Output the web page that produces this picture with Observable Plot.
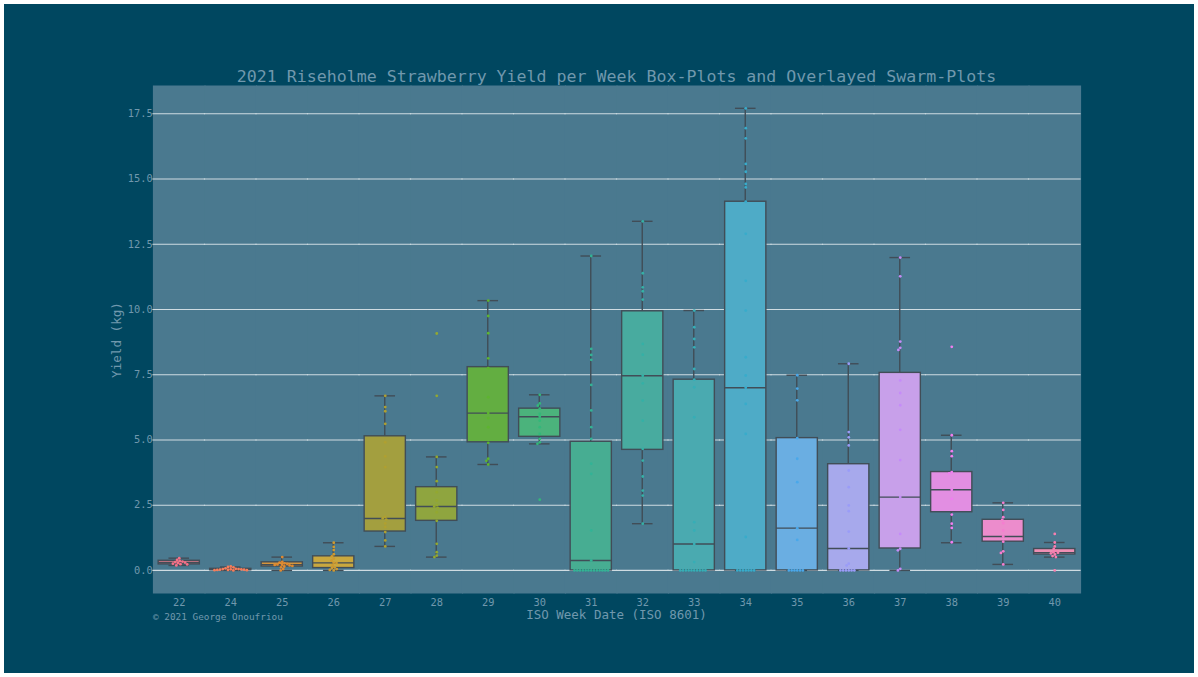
<!DOCTYPE html>
<html><head><meta charset="utf-8">
<script src="https://cdn.jsdelivr.net/npm/d3@7"></script>
<script src="https://cdn.jsdelivr.net/npm/@observablehq/plot@0.6"></script>
<style>
html,body{margin:0;padding:0;background:#fff;}
#wrap{position:relative;width:1198px;height:677px;overflow:hidden;background:#004760;}
#border{position:absolute;left:0;top:0;width:1198px;height:677px;box-sizing:border-box;border:4px solid #fff;pointer-events:none;}
.txt{position:absolute;font-family:"DejaVu Sans Mono",monospace;color:#7098ad;line-height:1;white-space:nowrap;}
#chart svg{display:block;}
</style></head><body>
<div id="wrap">
<div id="chart"></div>
<div class="txt" style="left:153px;width:927px;top:68.5px;text-align:center;font-size:16.6px;">2021 Riseholme Strawberry Yield per Week Box-Plots and Overlayed Swarm-Plots</div>
<div class="txt" style="left:117px;top:340px;font-size:12.6px;transform:translate(-50%,-50%) rotate(-90deg);">Yield (kg)</div>
<div class="txt" style="left:153px;width:927px;top:608.7px;text-align:center;font-size:12.5px;">ISO Week Date (ISO 8601)</div>
<div class="txt" style="left:153px;top:611.5px;font-size:9.4px;">© 2021 George Onoufriou</div>
<div id="border"></div>
</div>
<script>
// ---- data ----
const weeks = [22, 24, 25, 26, 27, 28, 29, 30, 31, 32, 33, 34, 35, 36, 37, 38, 39, 40];
const whiskerLow  = [0.19, 0.00, 0.00, 0.00, 0.92, 0.51, 4.06, 4.85, 0.00, 1.79, 0.00, 0.00, 0.00, 0.00, 0.00, 1.06, 0.23, 0.51];
const q1          = [0.23, 0.01, 0.15, 0.09, 1.49, 1.90, 4.91, 5.12, 0.00, 4.62, 0.00, 0.00, 0.00, 0.00, 0.84, 2.23, 1.10, 0.61];
const median      = [0.30, 0.03, 0.22, 0.29, 1.99, 2.45, 6.03, 5.89, 0.38, 7.46, 1.01, 7.00, 1.62, 0.84, 2.81, 3.09, 1.30, 0.68];
const q3          = [0.37, 0.06, 0.31, 0.54, 5.14, 3.19, 7.79, 6.20, 4.93, 9.93, 7.31, 14.13, 5.07, 4.07, 7.57, 3.77, 1.94, 0.82];
const whiskerHigh = [0.47, 0.13, 0.51, 1.06, 6.69, 4.35, 10.34, 6.73, 12.05, 13.38, 9.96, 17.71, 7.48, 7.92, 11.99, 5.18, 2.59, 1.07];
const boxColors = ["#b8707e", "#c97b6a", "#d5953d", "#c9a83f", "#a39f3f", "#8fa53f", "#63ae41", "#4bb37c", "#47ad92",
  "#48ab9f", "#4aaab0", "#4eabc7", "#6aaee2", "#a7a9ec", "#c8a0ea", "#e28ee2", "#ec8ccc", "#ee8fb4"];
const pointColors = ["#f77189", "#f67d5a", "#e08a30", "#cf9a30", "#b0a030", "#93a830", "#5eb530", "#33b87a", "#33b396",
  "#35b0a6", "#36aeb6", "#38accb", "#4aa8ea", "#9a9cf8", "#c58cf8", "#f07ef0", "#f57ed0", "#f77fb0"];
const pointValues = [
  [0.47, 0.40, 0.36, 0.34, 0.32, 0.30, 0.28, 0.26, 0.24, 0.23, 0.19],
  [0.15, 0.13, 0.12, 0.08, 0.06, 0.05, 0.05, 0.04, 0.04, 0.03, 0.03, 0.02, 0.02, 0.01, 0.01, 0.00],
  [0.51, 0.33, 0.30, 0.27, 0.25, 0.23, 0.22, 0.21, 0.19, 0.17, 0.15, 0.12, 0.05, 0.00],
  [1.06, 0.90, 0.78, 0.62, 0.54, 0.45, 0.38, 0.30, 0.28, 0.20, 0.12, 0.09, 0.05, 0.02, 0.00],
  [6.69, 6.26, 6.10, 5.62, 4.91, 4.37, 3.96, 2.05, 2.00, 1.95, 1.80, 1.66, 1.47, 1.15, 0.92],
  [9.08, 6.69, 4.35, 3.96, 3.42, 3.00, 2.68, 2.50, 2.45, 2.40, 2.23, 1.90, 1.02, 0.70, 0.57, 0.51],
  [10.34, 9.75, 9.09, 8.13, 7.75, 6.64, 6.03, 5.84, 5.49, 4.89, 4.28, 4.20, 4.06],
  [6.73, 6.40, 6.32, 6.20, 6.00, 5.89, 5.74, 5.49, 5.23, 5.04, 4.91, 4.85, 2.71],
  [12.05, 8.49, 8.26, 8.07, 7.11, 6.13, 5.49, 5.04, 4.09, 3.70, 1.53, 0.38, 0, 0, 0, 0, 0, 0, 0, 0, 0, 0, 0, 0, 0],
  [13.38, 11.39, 10.85, 10.70, 10.38, 8.68, 8.27, 7.46, 7.17, 6.51, 5.74, 4.66, 4.21, 3.60, 3.06, 2.87, 1.79],
  [9.96, 9.32, 8.87, 8.55, 7.72, 7.31, 7.02, 5.87, 1.85, 1.53, 1.01, 0.32, 0, 0, 0, 0, 0, 0, 0, 0, 0, 0],
  [17.71, 16.95, 16.56, 15.58, 15.28, 14.81, 14.68, 14.13, 12.90, 11.10, 9.96, 8.17, 7.47, 7.00, 6.38, 5.23, 1.28, 0, 0, 0, 0, 0, 0, 0],
  [7.48, 6.97, 6.52, 5.07, 4.28, 3.38, 1.62, 1.17, 0, 0, 0, 0, 0, 0],
  [7.92, 5.30, 5.10, 4.79, 3.83, 3.19, 2.49, 2.27, 1.49, 0.84, 0.26, 0.19, 0, 0, 0, 0, 0, 0],
  [11.99, 11.27, 8.77, 8.53, 8.45, 7.28, 6.80, 6.33, 5.39, 4.23, 2.81, 1.40, 0.83, 0.77, 0.06, 0.00],
  [8.57, 5.18, 4.57, 4.38, 3.77, 3.72, 3.09, 2.74, 2.14, 1.79, 1.63, 1.08],
  [2.59, 2.32, 2.04, 1.94, 1.81, 1.53, 1.30, 1.10, 0.73, 0.67, 0.23],
  [1.40, 1.07, 0.92, 0.82, 0.75, 0.70, 0.68, 0.65, 0.61, 0.55, 0.51, 0.00]
];
const yTicks = [0, 2.5, 5, 7.5, 10, 12.5, 15, 17.5];

// ---- tables built from the arrays ----
const boxes = weeks.map((w, i) => ({week: w, lo: whiskerLow[i], q1: q1[i], med: median[i], q3: q3[i], hi: whiskerHigh[i], color: boxColors[i]}));
const points = weeks.flatMap((w, i) => pointValues[i].map(v => ({week: w, value: v, color: pointColors[i]})));

const W = 1198, H = 677, mL = 153, mR = 118, mT = 85, mB = 84;
const step = (W - mL - mR) / weeks.length;
const gap = step * 0.1 + 0.6;    // half of the inner padding (+ overlap to hide seams)
const bw = step * 0.8;           // box width
const lw = 1.4;                  // line width
const edge = "#414d57";

const chart = Plot.plot({
  width: W, height: H,
  marginLeft: mL, marginRight: mR, marginTop: mT, marginBottom: mB,
  style: {background: "transparent", color: "#7098ad", fontFamily: "DejaVu Sans Mono", fontSize: "10.3px"},
  fx: {domain: weeks, paddingInner: 0.2, paddingOuter: 0.1, round: false, label: null, tickSize: 0, tickPadding: 5, axis: "bottom"},
  y: {domain: [-0.885, 18.585], ticks: yTicks, tickFormat: d3.format(".1f"), tickSize: 0, tickPadding: 6, label: null, grid: false},
  color: {type: "identity"},
  marks: [
    Plot.frame({fill: "#4a798f", stroke: null, insetLeft: -gap, insetRight: -gap}),
    Plot.ruleY(yTicks, {stroke: "#cfdce2", strokeWidth: 1.1, insetLeft: -gap, insetRight: -gap}),
    // whiskers (thin rects centred in each band)
    Plot.rectY(boxes, {fx: "week", y1: "q3", y2: "hi", fill: edge, insetLeft: bw / 2 - lw / 2, insetRight: bw / 2 - lw / 2}),
    Plot.rectY(boxes, {fx: "week", y1: "lo", y2: "q1", fill: edge, insetLeft: bw / 2 - lw / 2, insetRight: bw / 2 - lw / 2}),
    Plot.ruleY(boxes, {fx: "week", y: "hi", stroke: edge, strokeWidth: lw, insetLeft: bw / 4, insetRight: bw / 4}),
    Plot.ruleY(boxes, {fx: "week", y: "lo", stroke: edge, strokeWidth: lw, insetLeft: bw / 4, insetRight: bw / 4}),
    Plot.rectY(boxes, {fx: "week", y1: "q1", y2: "q3", fill: "color", stroke: edge, strokeWidth: lw}),
    Plot.ruleY(boxes, {fx: "week", y: "med", stroke: edge, strokeWidth: lw}),
    Plot.dot(points, Plot.dodgeX({anchor: "middle", padding: 0}, {fx: "week", y: "value", r: 1.4, fill: "color", stroke: null}))
  ]
});
document.getElementById("chart").appendChild(chart);
</script>
</body></html>
